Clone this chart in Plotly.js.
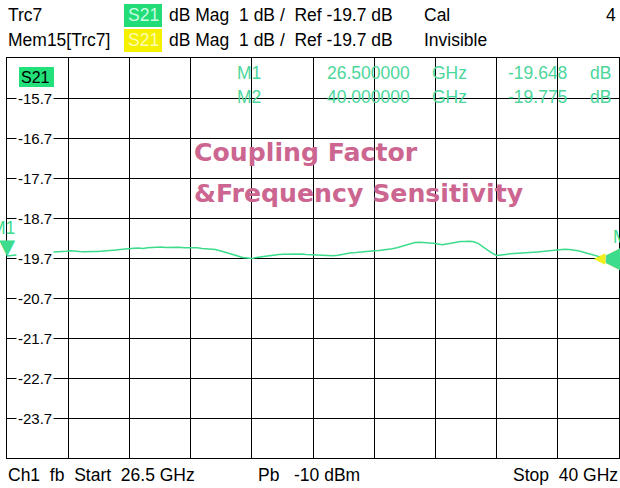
<!DOCTYPE html>
<html><head><meta charset="utf-8">
<script src="https://cdn.plot.ly/plotly-3.0.1.min.js"></script>
<style>html,body{margin:0;padding:0;background:#fff}#chart{width:620px;height:488px}</style>
</head><body><div id="chart"></div>
<script>
// ---- data ----
const freqGHz = [26.5,26.6,26.7,26.8,26.9,27.0,27.1,27.2,27.3,27.4,27.5,27.6,27.7,27.8,27.9,28.0,28.1,28.2,28.3,28.4,28.5,28.6,28.7,28.8,28.9,29.0,29.1,29.2,29.3,29.4,29.5,29.6,29.7,29.8,29.9,30.0,30.1,30.2,30.3,30.4,30.5,30.6,30.7,30.8,30.9,31.0,31.1,31.2,31.3,31.4,31.5,31.6,31.7,31.8,31.9,32.0,32.1,32.2,32.3,32.4,32.5,32.6,32.7,32.8,32.9,33.0,33.1,33.2,33.3,33.4,33.5,33.6,33.7,33.8,33.9,34.0,34.1,34.2,34.3,34.4,34.5,34.6,34.7,34.8,34.9,35.0,35.1,35.2,35.3,35.4,35.5,35.6,35.7,35.8,35.9,36.0,36.1,36.2,36.3,36.4,36.5,36.6,36.7,36.8,36.9,37.0,37.1,37.2,37.3,37.4,37.5,37.6,37.7,37.8,37.9,38.0,38.1,38.2,38.3,38.4,38.5,38.6,38.7,38.8,38.9,39.0,39.1,39.2,39.3,39.4,39.5,39.6,39.7,39.8,39.9,40.0];
const s21dB = [-19.648,-19.63,-19.615,-19.61,-19.595,-19.60,-19.58,-19.575,-19.56,-19.565,-19.55,-19.545,-19.535,-19.53,-19.52,-19.535,-19.54,-19.545,-19.55,-19.54,-19.535,-19.53,-19.52,-19.515,-19.50,-19.49,-19.475,-19.46,-19.455,-19.45,-19.46,-19.445,-19.44,-19.435,-19.425,-19.44,-19.435,-19.425,-19.43,-19.445,-19.44,-19.45,-19.445,-19.46,-19.465,-19.475,-19.49,-19.52,-19.555,-19.59,-19.62,-19.655,-19.685,-19.70,-19.715,-19.685,-19.67,-19.655,-19.625,-19.615,-19.61,-19.605,-19.60,-19.605,-19.595,-19.60,-19.615,-19.62,-19.63,-19.64,-19.645,-19.65,-19.645,-19.63,-19.61,-19.585,-19.57,-19.565,-19.55,-19.54,-19.525,-19.52,-19.51,-19.50,-19.49,-19.47,-19.445,-19.41,-19.37,-19.34,-19.315,-19.305,-19.31,-19.32,-19.33,-19.35,-19.37,-19.35,-19.325,-19.305,-19.29,-19.285,-19.28,-19.295,-19.34,-19.42,-19.50,-19.58,-19.635,-19.63,-19.61,-19.595,-19.59,-19.58,-19.575,-19.57,-19.56,-19.55,-19.54,-19.53,-19.52,-19.51,-19.495,-19.48,-19.49,-19.50,-19.52,-19.55,-19.585,-19.62,-19.655,-19.685,-19.71,-19.74,-19.76,-19.775];
const markerNames = ["M1","M2"];
const markerFreq = [26.5, 40.0];
const markerVal = [-19.648, -19.775];
const markerFreqText = ["26.500000","40.000000"];
const markerValText = ["-19.648","-19.775"];
const yTickVals = [-15.7,-16.7,-17.7,-18.7,-19.7,-20.7,-21.7,-22.7,-23.7];
const yTickText = ["-15.7","-16.7","-17.7","-18.7","-19.7","-20.7","-21.7","-22.7","-23.7"];
const xStart = 26.5, xStop = 40.0;
const yBottom = -24.7, yTop = -14.7;

// ---- layout helpers ----
const L = 7, T = 58, W = 612, H = 400;
const px = x => (x - L) / W;
const py = y => (T + H - y) / H;
const FONT = '"Liberation Sans", Arial, sans-serif';
const GREEN = '#3ddc8c';
const TBL = '#4cd69c';
const FS = 17.5;

const ann = [];
function txt(text, x, y, opts) {
  ann.push(Object.assign({text: text, xref: 'paper', yref: 'paper', x: px(x), y: py(y),
    xanchor: 'left', yanchor: 'middle', showarrow: false,
    font: {family: FONT, size: FS, color: '#000'}}, opts || {}));
}
// header
txt('Trc7', 6, 15);
txt('dB Mag  1 dB /  Ref -19.7 dB', 167, 15);
txt('Cal', 422, 15);
txt('4', 604, 15);
txt('Mem15[Trc7]', 6, 40);
txt('dB Mag  1 dB /  Ref -19.7 dB', 167, 40);
txt('Invisible', 422, 40);
txt('S21', 126, 15, {font: {family: FONT, size: FS, color: '#c8ffe0'}});
txt('S21', 126, 40, {font: {family: FONT, size: FS, color: '#fffbb0'}});
// footer
txt('Ch1  fb  Start  26.5 GHz', 6, 475);
txt('Pb   -10 dBm', 256, 475);
txt('Stop  40 GHz', 511, 475);
// in-plot trace label
txt('S21', 19, 77, {font: {family: FONT, size: 16, color: '#000'}});
// marker table
const tblY = [73, 97];
for (let i = 0; i < markerNames.length; i++) {
  const f = {family: FONT, size: FS, color: TBL};
  txt(markerNames[i], 235, tblY[i], {font: f});
  txt(markerFreqText[i], 325, tblY[i], {font: f});
  txt('GHz', 430, tblY[i], {font: f});
  txt(markerValText[i], 506, tblY[i], {font: f});
  txt('dB', 588, tblY[i], {font: f});
}
// title
const tf = {family: '"DejaVu Sans", Verdana, sans-serif', size: 25.2, color: '#cc6690', weight: 'bold'};
txt('<b>Coupling Factor</b>', 192, 152, {font: tf});
txt('<b>&amp;Frequency Sensitivity</b>', 192, 193, {font: tf});
// y tick labels inside plot with white background
for (let i = 0; i < yTickVals.length; i++) {
  ann.push({text: yTickText[i], xref: 'paper', yref: 'y', x: px(35), y: yTickVals[i],
    xanchor: 'center', yanchor: 'middle', showarrow: false, bgcolor: '#fff', borderpad: 1,
    font: {family: FONT, size: 15, color: '#000'}});
}
// markers
const SYM = '"DejaVu Sans", sans-serif';
ann.push({text: '▼', x: markerFreq[0], y: markerVal[0], xref: 'x', yref: 'y', showarrow: false,
  xanchor: 'center', yanchor: 'bottom', yshift: -5, font: {family: SYM, size: 21, color: GREEN}});
ann.push({text: markerNames[0], x: markerFreq[0], y: markerVal[0], xref: 'x', yref: 'y', showarrow: false,
  xanchor: 'center', yanchor: 'bottom', yshift: 16, xshift: -4, font: {family: FONT, size: FS, color: GREEN}});
ann.push({text: '◀', x: markerFreq[1], y: markerVal[1], xref: 'x', yref: 'y', showarrow: false,
  xanchor: 'left', yanchor: 'middle', xshift: -23, yshift: 5, font: {family: SYM, size: 34, color: GREEN}});
ann.push({text: '◀', x: markerFreq[1], y: markerVal[1], xref: 'x', yref: 'y', showarrow: false,
  xanchor: 'left', yanchor: 'middle', xshift: -27, yshift: 3, font: {family: SYM, size: 15, color: '#f0f020'}});
ann.push({text: markerNames[1], x: markerFreq[1], y: markerVal[1], xref: 'x', yref: 'y', showarrow: false,
  xanchor: 'left', yanchor: 'middle', xshift: -8, yshift: 24, font: {family: FONT, size: FS, color: GREEN}});

const shapes = [
  {type: 'rect', xref: 'paper', yref: 'paper', x0: px(124), x1: px(162), y0: py(27), y1: py(4), fillcolor: '#22dd77', line: {width: 0}, layer: 'below'},
  {type: 'rect', xref: 'paper', yref: 'paper', x0: px(124), x1: px(162), y0: py(52), y1: py(29), fillcolor: '#f4f000', line: {width: 0}, layer: 'below'},
  {type: 'rect', xref: 'paper', yref: 'paper', x0: px(19), x1: px(54), y0: py(87), y1: py(67), fillcolor: '#22e07a', line: {width: 0}, layer: 'above'}
];

const traces = [{
  x: freqGHz, y: s21dB, type: 'scatter', mode: 'lines',
  line: {color: GREEN, width: 1.5}, hoverinfo: 'skip'
}];

const layout = {
  width: 620, height: 488, showlegend: false,
  margin: {l: L, r: 620 - L - W, t: T, b: 488 - T - H, pad: 0},
  paper_bgcolor: '#fff', plot_bgcolor: '#fff',
  xaxis: {range: [xStart, xStop], tick0: xStart, dtick: (xStop - xStart) / 10, showticklabels: false,
    ticks: '', showgrid: true, gridcolor: '#000', gridwidth: 1, zeroline: false,
    showline: true, mirror: true, linecolor: '#000', linewidth: 1},
  yaxis: {range: [yBottom, yTop], tick0: -19.7, dtick: 1, showticklabels: false,
    ticks: '', showgrid: true, gridcolor: '#000', gridwidth: 1, zeroline: false,
    showline: true, mirror: true, linecolor: '#000', linewidth: 1},
  annotations: ann, shapes: shapes
};
Plotly.newPlot('chart', traces, layout, {staticPlot: true, displayModeBar: false});
</script></body></html>
